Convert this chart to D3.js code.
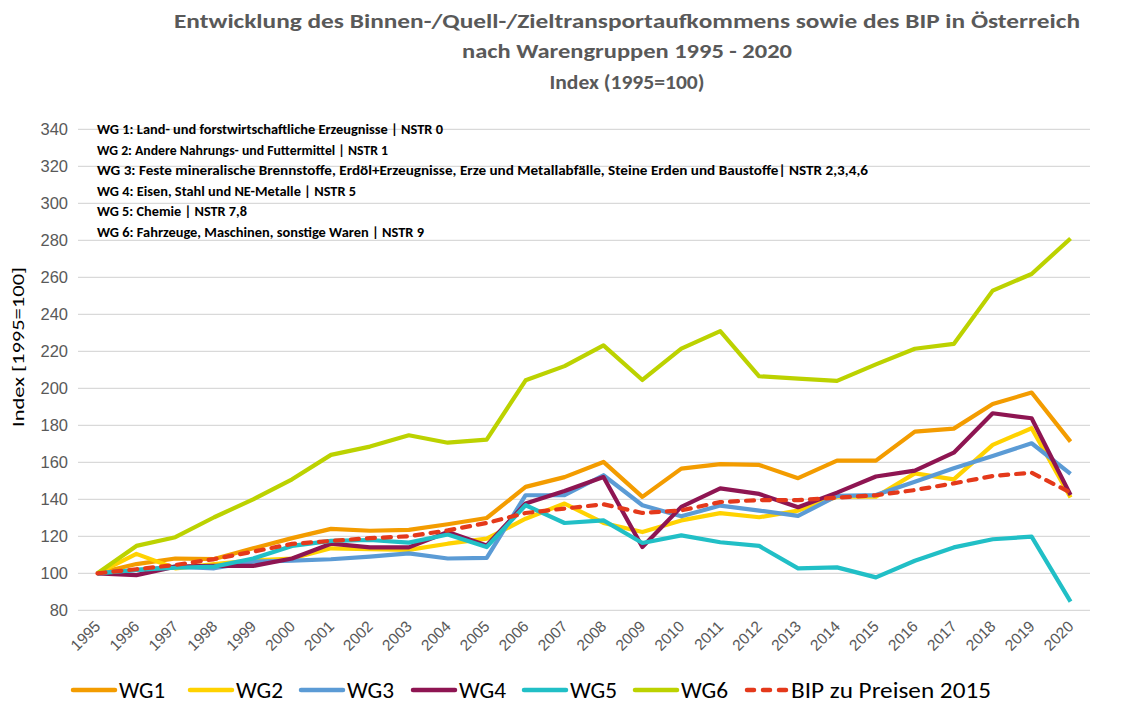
<!DOCTYPE html>
<html><head><meta charset="utf-8">
<script src="https://cdn.jsdelivr.net/npm/d3@7"></script>
<style>
body{margin:0;background:#fff;}
svg{display:block;font-family:Carlito,Calibri,"Open Sans","Noto Sans",sans-serif;}
</style></head>
<body><svg id="chart" width="1141" height="719"></svg>
<script>
const years = ["1995","1996","1997","1998","1999","2000","2001","2002","2003","2004","2005","2006","2007","2008","2009","2010","2011","2012","2013","2014","2015","2016","2017","2018","2019","2020"];
const wg1 = [100,105,108,107.7,113.5,119,124,123,123.5,126.5,129.9,146.7,152,160.2,141.3,156.6,159,158.6,151.4,160.9,160.9,176.6,178.2,191.5,197.7,171.2];
const wg2 = [100,110.5,102.7,105,107,108,113.5,113,112.7,116,118.7,129.5,137.7,127.2,122.3,128.6,132.5,130.3,133.9,141.4,141.4,154,150.8,169.4,178.4,141];
const wg3 = [100,101.8,103.6,102.7,106.3,106.8,107.6,109,110.8,108,108.3,142.2,142.2,153,136.8,130.8,136.6,133.9,131,141.8,142.3,149.5,156.8,163.4,170.3,153.7];
const wg4 = [100,99,103.6,104,104,108,116,114,114,122.3,115.1,137.7,144.5,152,114.2,135.9,145.9,142.9,135.7,143.6,152.3,155.5,165.2,186.5,183.8,142.3];
const wg5 = [100,101.8,103,103.6,108,114.8,117.5,118,116.6,121,114.2,136.8,127.2,128.6,116.4,120.5,116.8,114.8,102.7,103.2,97.8,106.8,114,118.4,119.8,84.7];
const wg6 = [100,114.8,119.5,130.3,140,150.8,164,168.5,174.6,170.6,172.3,204.3,212,223.2,204.5,221.4,230.9,206.5,205.2,204,212.9,221.4,224,252.8,261.8,281];
const bip = [100,102.2,104.5,107.7,111.7,115.9,117.5,119,120,123.2,127.2,132.6,135,137.3,132.6,134,138.5,139.6,139.6,140.9,142.2,145,148.6,152.6,154.4,143.6];
const seriesNames = ["WG1","WG2","WG3","WG4","WG5","WG6","BIP zu Preisen 2015"];
const yTicks = [80,100,120,140,160,180,200,220,240,260,280,300,320,340];
const titleLines = ["Entwicklung des Binnen-/Quell-/Zieltransportaufkommens sowie des BIP in Österreich","nach Warengruppen 1995 - 2020","Index (1995=100)"];
const noteLines = [
 "WG 1: Land- und forstwirtschaftliche Erzeugnisse | NSTR 0",
 "WG 2: Andere Nahrungs- und Futtermittel | NSTR 1",
 "WG 3: Feste mineralische Brennstoffe, Erdöl+Erzeugnisse, Erze und Metallabfälle, Steine Erden und Baustoffe| NSTR 2,3,4,6",
 "WG 4: Eisen, Stahl und NE-Metalle | NSTR 5",
 "WG 5: Chemie | NSTR 7,8",
 "WG 6: Fahrzeuge, Maschinen, sonstige Waren | NSTR 9"];
const yTitle = "Index [1995=100]";

const allSeries = [wg1,wg2,wg3,wg4,wg5,wg6,bip];
const colors = ["#F39C00","#FFD200","#5B9BD5","#8E1552","#21BFC6","#BCD200","#E4391B"];

const svg = d3.select("#chart");
const L = 78, R = 1090, T = 129.3, B = 610.3;
const x = d3.scaleBand().domain(years).range([L,R]);
const y = d3.scaleLinear().domain([80,340]).range([B,T]);
const cx = d => x(d) + x.bandwidth()/2;

// gridlines
svg.append("g").selectAll("line").data(yTicks).join("line")
  .attr("x1",L).attr("x2",R).attr("y1",d=>y(d)).attr("y2",d=>y(d))
  .attr("stroke","#D9D9D9").attr("stroke-width",1.3);

// y axis labels
const yAxis = d3.axisLeft(y).tickValues(yTicks).tickSize(0).tickPadding(10);
const gy = svg.append("g").attr("transform",`translate(${L},0)`).call(yAxis);
gy.select(".domain").remove();
gy.selectAll("text").attr("fill","#595959").style("font-size","16.5px").style("font-family","inherit");

// x axis labels
const xAxis = d3.axisBottom(x).tickSize(0).tickPadding(0);
const gx = svg.append("g").attr("transform",`translate(0,${B})`).call(xAxis);
gx.select(".domain").remove();
gx.selectAll("text").attr("fill","#595959").style("font-size","15.5px").style("font-family","inherit")
  .attr("text-anchor","end").attr("dy",null).attr("y",0)
  .attr("transform","translate(4,17) rotate(-45)");

// y title
svg.append("text").attr("transform","translate(24,347) rotate(-90)")
  .attr("text-anchor","middle").style("font-size","17px").attr("fill","#000")
  .attr("textLength",160).attr("lengthAdjust","spacingAndGlyphs").text(yTitle);

// lines
const line = d3.line().x((d,i)=>cx(years[i])).y(d=>y(d));
allSeries.forEach((s,k)=>{
  svg.append("path").datum(s).attr("d",line).attr("fill","none")
    .attr("stroke",colors[k]).attr("stroke-width",4.2)
    .attr("stroke-linejoin","round")
    .attr("stroke-linecap", k===6 ? "round" : "butt")
    .attr("stroke-dasharray", k===6 ? "8,8" : null);
});

// title
const titleY = [28,58,89];
const titleW = [906,330,155];
titleLines.forEach((t,i)=>{
  svg.append("text").attr("x",627).attr("y",titleY[i]).attr("text-anchor","middle")
    .attr("fill","#595959").style("font-size","21px").style("font-weight","bold")
    .attr("textLength",titleW[i]).attr("lengthAdjust","spacingAndGlyphs").text(t);
});

// note block
const noteY = [134,155,175,196,216,237];
const noteW = [346,291,771,259,150,327];
noteLines.forEach((t,i)=>{
  svg.append("text").attr("x",97).attr("y",noteY[i]).attr("fill","#000")
    .style("font-size","14.5px").style("font-weight","bold")
    .attr("textLength",noteW[i]).attr("lengthAdjust","spacingAndGlyphs").text(t);
});

// legend
const legX = [73,190,301,413,524,635,745];
const legW = [46,47,47,47,47,47,200];
seriesNames.forEach((n,k)=>{
  const g = svg.append("g");
  g.append("line").attr("x1",legX[k]+ (k===6?2:0)).attr("x2",legX[k]+42).attr("y1",690).attr("y2",690)
    .attr("stroke",colors[k]).attr("stroke-width",4.5)
    .attr("stroke-linecap", "round")
    .attr("stroke-dasharray", k===6 ? "7,9" : null);
  g.append("text").attr("x",legX[k]+46).attr("y",698).attr("fill","#000")
    .style("font-size","22px").attr("textLength",legW[k]).attr("lengthAdjust","spacingAndGlyphs").text(n);
});
</script></body></html>
